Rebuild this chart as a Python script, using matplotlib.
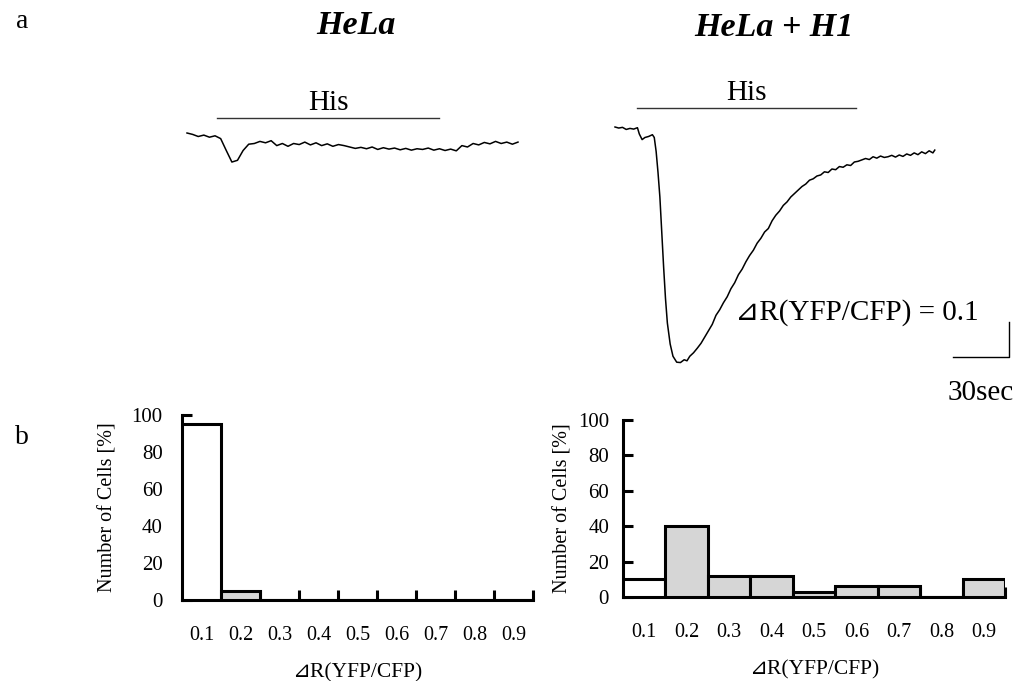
"""Histamine response traces and dR histograms for HeLa vs HeLa + H1."""

import matplotlib
matplotlib.use("Agg")
import matplotlib.pyplot as plt

plt.rcParams["font.family"] = ["Liberation Serif", "DejaVu Serif", "DejaVu Sans"]

# ---- panel a: ratio traces (time in sec, change in YFP/CFP ratio) ----
hela_t = [0, 3, 6, 9, 12, 15, 18, 21, 24, 27, 30, 33, 36, 39, 42, 45, 48, 51,
          54, 57, 60, 63, 66, 69, 72, 75, 78, 81, 84, 87, 90, 93, 96, 99, 102,
          105, 108, 111, 114, 117, 120, 123, 126, 129, 132, 135, 138, 141, 144,
          147, 150, 153, 156, 159, 162, 165, 168, 171, 174, 177]
hela_r = [0.000, -0.004, -0.010, -0.006, -0.012, -0.008, -0.016, -0.050, -0.083,
          -0.078, -0.050, -0.032, -0.030, -0.024, -0.028, -0.022, -0.036, -0.030,
          -0.038, -0.030, -0.033, -0.026, -0.034, -0.028, -0.036, -0.031, -0.038,
          -0.033, -0.036, -0.040, -0.044, -0.041, -0.045, -0.040, -0.047, -0.042,
          -0.046, -0.043, -0.048, -0.044, -0.049, -0.045, -0.047, -0.043, -0.049,
          -0.045, -0.050, -0.046, -0.051, -0.036, -0.040, -0.030, -0.034, -0.027,
          -0.031, -0.024, -0.030, -0.026, -0.032, -0.026]

h1_t = [0, 2, 4, 6, 8, 10, 12, 13, 14.5, 16, 18, 20, 21, 22, 23, 24, 25, 26, 27,
        28, 29.5, 31, 33, 35, 37, 38.5, 40, 42, 44, 46, 48, 50, 52, 54, 56, 58,
        60, 62, 64, 66, 68, 70, 72, 74, 76, 78, 80, 82, 84, 86, 88, 90, 92, 94,
        96, 98, 100, 102, 104, 106, 108, 110, 112, 114, 116, 118, 120, 122, 124,
        126, 128, 130, 132, 134, 136, 138, 140, 142, 144, 146, 148, 150, 152,
        154, 156, 158, 160, 162, 164, 166, 168, 170, 171]
h1_r = [0.000, -0.003, -0.001, -0.007, -0.004, -0.006, -0.002, -0.020, -0.036,
        -0.030, -0.027, -0.022, -0.030, -0.070, -0.130, -0.200, -0.300, -0.400,
        -0.490, -0.560, -0.620, -0.655, -0.672, -0.673, -0.665, -0.668, -0.655,
        -0.645, -0.632, -0.618, -0.600, -0.582, -0.564, -0.538, -0.522, -0.502,
        -0.485, -0.462, -0.445, -0.422, -0.406, -0.385, -0.367, -0.352, -0.332,
        -0.318, -0.300, -0.290, -0.268, -0.252, -0.240, -0.224, -0.214, -0.200,
        -0.190, -0.180, -0.170, -0.163, -0.152, -0.148, -0.140, -0.137, -0.128,
        -0.130, -0.120, -0.122, -0.113, -0.115, -0.108, -0.110, -0.100, -0.098,
        -0.094, -0.090, -0.093, -0.085, -0.089, -0.083, -0.087, -0.085, -0.081,
        -0.086, -0.080, -0.084, -0.077, -0.081, -0.074, -0.079, -0.071, -0.076,
        -0.068, -0.074, -0.066]

hela_his = (16, 135)      # histamine application window, sec
h1_his = (12, 129)
scale_t = 30              # sec
scale_r = 0.1

# ---- panel b: histograms ----
bins = ["0.1", "0.2", "0.3", "0.4", "0.5", "0.6", "0.7", "0.8", "0.9"]
hela_pct = [95, 5, 0, 0, 0, 0, 0, 0, 0]
h1_pct = [10, 40, 12, 12, 3, 6, 6, 0, 10]

W, H = 1028, 681
fig = plt.figure(figsize=(W / 100, H / 100), dpi=100)


def px_axes(x0, y0, x1, y1):
    return fig.add_axes([x0 / W, 1 - y1 / H, (x1 - x0) / W, (y1 - y0) / H])


def trace_axes(x0, x1, t0_px, r0_px, bar_px, his, t, r):
    ax = px_axes(x0, 80, x1, 400)
    pps, ppr = 1.87, 350.0
    ax.set_xlim((x0 - t0_px) / pps, (x1 - t0_px) / pps)
    ax.set_ylim(-(400 - r0_px) / ppr, -(80 - r0_px) / ppr)
    ax.axis("off")
    ax.plot(t, r, color="black", lw=1.1)
    bar_r = (r0_px - bar_px) / ppr
    ax.plot(his, [bar_r, bar_r], color="#333333", lw=1.0)
    ax.text(sum(his) / 2, bar_r + 0.006, "His", ha="center", va="bottom", fontsize=21)
    return ax


trace_axes(180, 530, 187, 133, 118, hela_his, hela_t, hela_r)
ax_r = trace_axes(600, 1028, 615, 127, 108, h1_his, h1_t, h1_r)

# scale bar
sx, sy = 210.7, -0.657
ax_r.plot([sx - scale_t, sx, sx], [sy, sy, sy + scale_r], color="black", lw=1.0,
          clip_on=False)
ax_r.text(sx - 16.5, -0.531, "\u22bfR(YFP/CFP) = 0.1", ha="right", va="center",
          fontsize=21)
ax_r.text(sx - scale_t / 2, -0.76, "30sec", ha="center", va="center",
          fontsize=21, clip_on=False)

fig.text(356 / W, 1 - 25 / H, "HeLa", ha="center", va="center", fontsize=24.5,
         fontweight="bold", fontstyle="italic")
fig.text(774 / W, 1 - 27 / H, "HeLa + H1", ha="center", va="center", fontsize=24.5,
         fontweight="bold", fontstyle="italic")
fig.text(22 / W, 1 - 22 / H, "a", ha="center", va="center", fontsize=20)
fig.text(22 / W, 1 - 437 / H, "b", ha="center", va="center", fontsize=20)


def hist_axes(ax, pct, ypad, ylabelpad):
    pos = list(range(len(pct)))
    colors = ["white"] + ["#d6d6d6"] * (len(pct) - 1)
    ax.bar(pos, pct, width=1.0, color=colors, edgecolor="black", linewidth=2.2,
           zorder=3)
    ax.set_xlim(-0.5, len(pct) - 0.5)
    ax.set_ylim(0, 100)
    for side in ["top", "right"]:
        ax.spines[side].set_visible(False)
    for side in ["left", "bottom"]:
        ax.spines[side].set_linewidth(2.2)
    ax.set_yticks([0, 20, 40, 60, 80, 100])
    ax.tick_params(axis="y", direction="in", length=7, width=2.2, labelsize=15,
                   pad=ypad)
    ax.set_xticks([p + 0.5 for p in pos])
    ax.set_xticklabels([])
    ax.tick_params(axis="x", direction="in", length=7, width=2.2)
    ax.set_xticks(pos, minor=True)
    ax.set_xticklabels(bins, minor=True)
    ax.tick_params(axis="x", which="minor", length=0, labelsize=14.5, pad=19)
    ax.set_ylabel("Number of Cells [%]", fontsize=14.5, labelpad=ylabelpad)
    ax.set_xlabel("\u22bfR(YFP/CFP)", fontsize=15.5, labelpad=13)


hist_axes(px_axes(182, 415, 533, 600), hela_pct, 14, 10)
hist_axes(px_axes(623, 420, 1005, 597), h1_pct, 10, 4)

fig.savefig("out.png", dpi=100)
